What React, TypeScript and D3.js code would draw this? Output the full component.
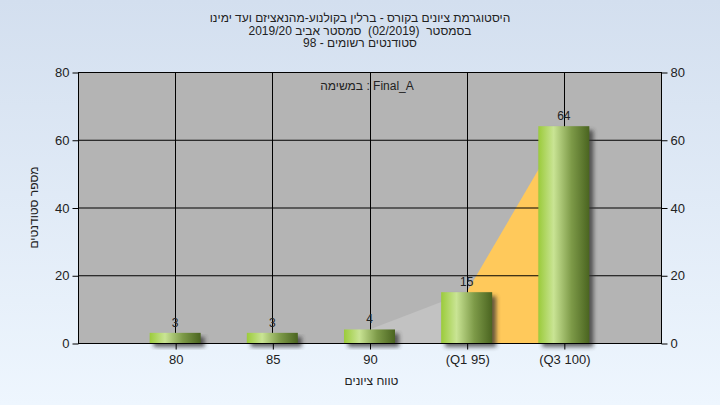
import * as d3 from 'd3';
import React, { useEffect, useRef } from 'react';

// grade buckets and student counts
const categories = ['80', '85', '90', '(Q1 95)', '(Q3 100)'];
const counts = [3, 3, 4, 15, 64];
const yTicks = [0, 20, 40, 60, 80];
const grayFrom = 2;
const q1Index = 3;
const q3Index = 4;

const titleLines = [
  'היסטוגרמת ציונים בקורס - ברלין בקולנוע-מהנאציזם ועד ימינו',
  'בסמסטר  (02/2019)  סמסטר אביב 2019/20',
  'סטודנטים רשומים - 98',
];
const taskLabel = 'Final_A : במשימה';
const xTitle = 'טווח ציונים';
const yTitle = 'מספר סטודנטים';

function App() {
  const ref = useRef<SVGSVGElement>(null);

  useEffect(() => {
    const width = 720;
    const height = 405;
    const left = 78, right = 661, top = 72, bottom = 343;
    const font = 'Liberation Sans, Arial, sans-serif';

    const svg = d3.select(ref.current);
    svg.selectAll('*').remove();

    const x = d3.scaleLinear().domain([0, categories.length + 1]).range([left, right]);
    const y = d3.scaleLinear().domain([0, 80]).range([bottom, top]);
    const barW = 51;

    const defs = svg.append('defs');
    const bg = defs.append('linearGradient').attr('id', 'bg').attr('x1', 0).attr('y1', 0).attr('x2', 0).attr('y2', 1);
    bg.append('stop').attr('offset', '0%').attr('stop-color', '#d3dfef');
    bg.append('stop').attr('offset', '100%').attr('stop-color', '#eef6fe');

    const bar = defs.append('linearGradient').attr('id', 'bar').attr('x1', 0).attr('y1', 0).attr('x2', 1).attr('y2', 0);
    bar.append('stop').attr('offset', '0%').attr('stop-color', '#9bcb3b');
    bar.append('stop').attr('offset', '30%').attr('stop-color', '#c9e494');
    bar.append('stop').attr('offset', '65%').attr('stop-color', '#7d9a48');
    bar.append('stop').attr('offset', '100%').attr('stop-color', '#4a6420');

    defs.append('filter').attr('id', 'blur').attr('x', '-20%').attr('y', '-20%').attr('width', '140%').attr('height', '140%')
      .append('feGaussianBlur').attr('stdDeviation', 2);

    svg.append('rect').attr('width', width).attr('height', height).attr('fill', 'url(#bg)');

    // title
    svg.append('g').selectAll('text').data(titleLines).enter().append('text')
      .attr('x', 360).attr('y', (d, i) => 22 + i * 12.5)
      .attr('text-anchor', 'middle').attr('direction', 'rtl')
      .style('white-space', 'pre')
      .attr('font-family', font).attr('font-size', 12).attr('fill', '#222')
      .text(d => d);

    // plot background
    svg.append('rect').attr('x', left).attr('y', top).attr('width', right - left).attr('height', bottom - top).attr('fill', '#b4b4b4');

    // area behind bars: gray before Q1, orange from Q1 to Q3
    const pts = counts.map((c, i) => ({ c, i }));
    const area = d3.area<{ c: number; i: number }>()
      .x(d => x(d.i + 1)).y0(y(0)).y1(d => y(d.c));
    svg.append('path').attr('d', area(pts.slice(grayFrom, q1Index + 1))).attr('fill', '#c2c2c2');
    svg.append('path').attr('d', area(pts.slice(q1Index, q3Index + 1))).attr('fill', '#ffc95b');

    // grid
    const grid = svg.append('g').attr('stroke', '#000').attr('stroke-width', 1);
    grid.selectAll('line.h').data(yTicks.filter(t => t > 0 && t < 80)).enter().append('line')
      .attr('x1', left).attr('x2', right).attr('y1', d => y(d) + 0.5).attr('y2', d => y(d) + 0.5);
    grid.selectAll('line.v').data(categories).enter().append('line')
      .attr('x1', (d, i) => Math.round(x(i + 1)) + 0.5).attr('x2', (d, i) => Math.round(x(i + 1)) + 0.5)
      .attr('y1', top).attr('y2', bottom);

    // bars with shadow
    const bars = svg.append('g');
    bars.selectAll('rect.s').data(counts).enter().append('rect')
      .attr('x', (d, i) => x(i + 1) - barW / 2 + 4).attr('y', d => y(d) + 4)
      .attr('width', barW).attr('height', d => y(0) - y(d))
      .attr('fill', '#333').attr('opacity', 0.75).attr('filter', 'url(#blur)');
    bars.selectAll('rect.b').data(counts).enter().append('rect')
      .attr('x', (d, i) => x(i + 1) - barW / 2).attr('y', d => y(d))
      .attr('width', barW).attr('height', d => y(0) - y(d))
      .attr('fill', 'url(#bar)');

    // value labels
    svg.append('g').selectAll('text').data(counts).enter().append('text')
      .attr('x', (d, i) => x(i + 1)).attr('y', d => y(d) - 6)
      .attr('text-anchor', 'middle').attr('font-family', font).attr('font-size', 12).attr('fill', '#222')
      .text(d => d);

    // frame
    svg.append('rect').attr('x', left + 0.5).attr('y', top + 0.5).attr('width', right - left).attr('height', bottom - top)
      .attr('fill', 'none').attr('stroke', '#000');

    // axes
    const yl = svg.append('g').attr('transform', `translate(${left + 0.5},0.5)`)
      .call(d3.axisLeft(y).tickValues(yTicks).tickSize(6).tickPadding(3));
    const yr = svg.append('g').attr('transform', `translate(${right + 0.5},0.5)`)
      .call(d3.axisRight(y).tickValues(yTicks).tickSize(6).tickPadding(3));
    const xa = svg.append('g').attr('transform', `translate(0.5,${bottom + 0.5})`)
      .call(d3.axisBottom(x).tickValues(categories.map((c, i) => i + 1)).tickFormat((d: any) => categories[+d - 1]).tickSize(6).tickPadding(5));
    [yl, yr, xa].forEach(g => {
      g.select('.domain').remove();
      g.selectAll('line').attr('stroke', '#000');
      g.selectAll('text').attr('font-family', font).attr('font-size', 13).attr('fill', '#222');
    });

    svg.append('text').attr('x', 367).attr('y', 90).attr('text-anchor', 'middle').attr('direction', 'rtl')
      .attr('font-family', font).attr('font-size', 12).attr('fill', '#222').text(taskLabel);

    svg.append('text').attr('x', (x(1) + x(5)) / 2 + 2).attr('y', 385).attr('text-anchor', 'middle').attr('direction', 'rtl')
      .attr('font-family', font).attr('font-size', 12).attr('fill', '#222').text(xTitle);

    svg.append('text').attr('transform', `translate(38,${(top + bottom) / 2}) rotate(-90)`)
      .attr('text-anchor', 'middle').attr('direction', 'rtl')
      .attr('font-family', font).attr('font-size', 12).attr('fill', '#222').text(yTitle);
  });

  return (
    <svg ref={ref} width={720} height={405} style={{ position: 'absolute', left: 0, top: 0 }} />
  );
}

export default App;
